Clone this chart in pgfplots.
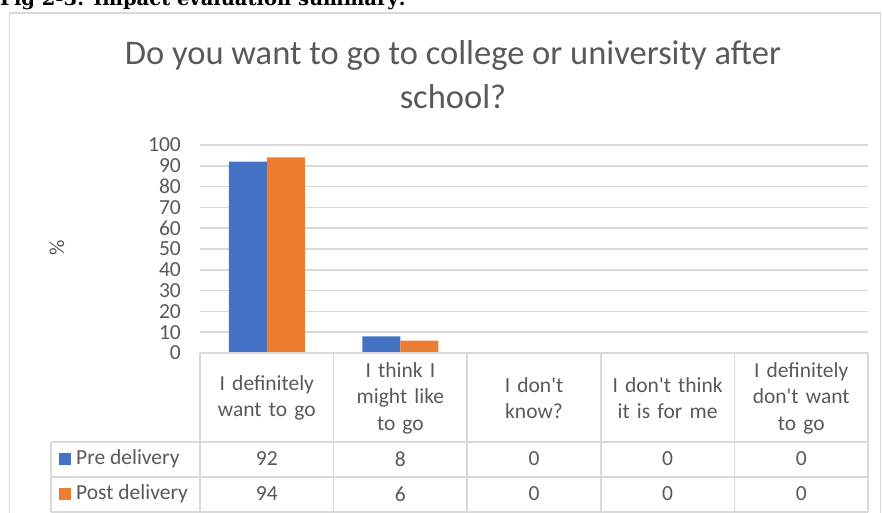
\documentclass[border=0pt]{standalone}
\usepackage{pgfplots}
\pgfplotsset{compat=1.18}
\usepackage{fontspec}
\setmainfont{Carlito}
\newfontfamily\headfont{DejaVu Serif}
\definecolor{xblue}{HTML}{4472C4}
\definecolor{xorange}{HTML}{ED7D31}
\definecolor{xgrid}{HTML}{D9D9D9}
\definecolor{xtext}{HTML}{595959}
\newcommand{\ap}{\textquotesingle}
\begin{document}
\begin{tikzpicture}[x=1pt,y=1pt]
\useasboundingbox (0,0) rectangle (883,513);
\node[anchor=base west, inner sep=0pt, font=\headfont\bfseries\fontsize{19.5}{22}\selectfont] at (0,507) {Fig 2-3: Impact evaluation summary:};
\draw[xgrid, line width=1.5pt] (9.5,-5) rectangle (880.5,500);
\node[font=\fontsize{34.5}{44}\selectfont, text=xtext, align=center] at (453,438) {Do you want to go to college or university after\\school?};
\node[rotate=90, font=\fontsize{21.5}{24}\selectfont, text=xtext] at (57,265) {\%};
\begin{axis}[at={(200pt,160pt)}, anchor=south west, scale only axis,
  width=668pt, height=208pt, xmin=-0.5, xmax=4.5, ymin=0, ymax=100,
  ytick={0,10,...,100}, xtick=\empty, axis line style={draw=none},
  ymajorgrids, grid style={xgrid, line width=1.5pt}, major tick length=0pt,
  ybar=0pt, bar width=38pt,
  yticklabel style={font=\fontsize{21.5}{24}\selectfont, text=xtext, inner sep=0pt, xshift=-19pt},
  /pgf/number format/assume math mode=true, clip=false]
\addplot[fill=xblue, draw=none] coordinates {(0,92) (1,8) (2,0) (3,0) (4,0)};
\addplot[fill=xorange, draw=none] coordinates {(0,94) (1,6) (2,0) (3,0) (4,0)};
\end{axis}
% data table
\draw[xgrid, line width=1.5pt] (200,160) -- (868,160);
\draw[xgrid, line width=1.5pt] (51,71) -- (868,71) (51,36) -- (868,36) (51,1) -- (868,1) (51,71) -- (51,1);
\foreach \x in {200,333.6,467.2,600.8,734.4,868} \draw[xgrid, line width=1.5pt] (\x,160) -- (\x,1);
\foreach \t [count=\i from 0] in {I definitely\\want to go, I think I\\might like\\to go, I don\ap t\\know?, I don\ap t think\\it is for me, I definitely\\don\ap t want\\to go}
  \node[text width=125pt, align=center, font=\fontsize{21.5}{26.5}\selectfont, text=xtext] at (266.8+\i*133.6,115) {\t};
\foreach \a/\b [count=\i from 0] in {92/94, 8/6, 0/0, 0/0, 0/0} {
  \node[font=\fontsize{21.5}{24}\selectfont, text=xtext] at (266.8+\i*133.6,54) {\a};
  \node[font=\fontsize{21.5}{24}\selectfont, text=xtext] at (266.8+\i*133.6,19) {\b};
}
\fill[xblue] (59,48) rectangle (71,60);
\fill[xorange] (59,13) rectangle (71,25);
\node[anchor=west, inner sep=0pt, font=\fontsize{21.5}{24}\selectfont, text=xtext] at (76,54) {Pre delivery};
\node[anchor=west, inner sep=0pt, font=\fontsize{21.5}{24}\selectfont, text=xtext] at (76,19) {Post delivery};
\end{tikzpicture}
\end{document}
